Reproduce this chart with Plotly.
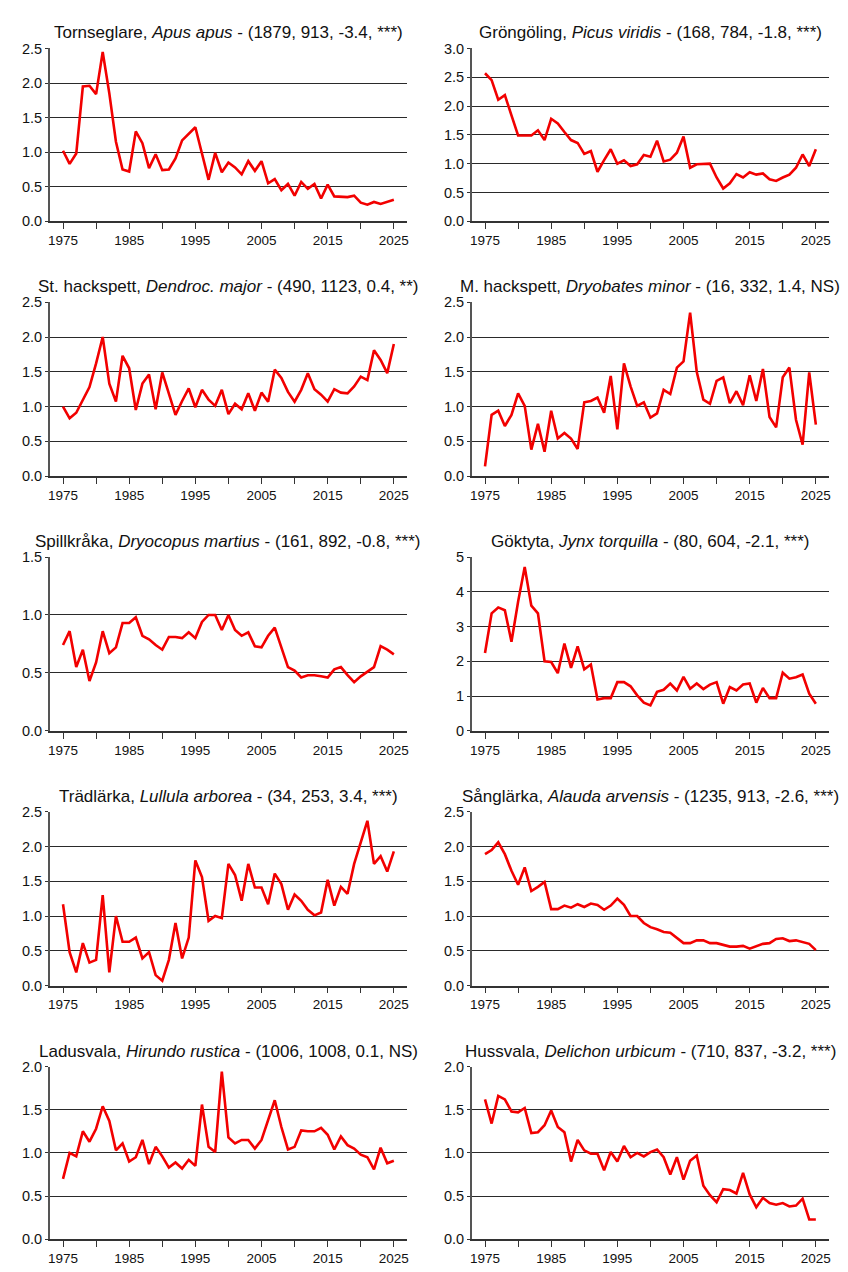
import plotly.graph_objects as go

# År 1975-2025
years = list(range(1975, 2026))

titles = [
    "Tornseglare, <i>Apus apus</i> - (1879, 913, -3.4, ***)",
    "Gröngöling, <i>Picus viridis</i> - (168, 784, -1.8, ***)",
    "St. hackspett, <i>Dendroc. major</i> - (490, 1123, 0.4, **)",
    "M. hackspett, <i>Dryobates minor</i> - (16, 332, 1.4, NS)",
    "Spillkråka, <i>Dryocopus martius</i> - (161, 892, -0.8, ***)",
    "Göktyta, <i>Jynx torquilla</i> - (80, 604, -2.1, ***)",
    "Trädlärka, <i>Lullula arborea</i> - (34, 253, 3.4, ***)",
    "Sånglärka, <i>Alauda arvensis</i> - (1235, 913, -2.6, ***)",
    "Ladusvala, <i>Hirundo rustica</i> - (1006, 1008, 0.1, NS)",
    "Hussvala, <i>Delichon urbicum</i> - (710, 837, -3.2, ***)",
]

tornseglare = [1.02, 0.83, 0.98, 1.95, 1.96, 1.84, 2.45, 1.85, 1.15, 0.75,
               0.72, 1.30, 1.13, 0.77, 0.97, 0.74, 0.75, 0.91, 1.17, 1.27,
               1.36, 0.98, 0.60, 0.99, 0.71, 0.85, 0.78, 0.68, 0.87, 0.73,
               0.87, 0.55, 0.61, 0.45, 0.54, 0.37, 0.57, 0.47, 0.54, 0.33,
               0.53, 0.36, 0.36, 0.35, 0.37, 0.27, 0.24, 0.28, 0.25, 0.28,
               0.31]
grongoling = [2.57, 2.45, 2.11, 2.19, 1.84, 1.49, 1.49, 1.49, 1.58, 1.41,
              1.78, 1.70, 1.55, 1.41, 1.36, 1.17, 1.22, 0.86, 1.06, 1.25,
              1.00, 1.06, 0.96, 0.99, 1.15, 1.12, 1.40, 1.04, 1.07, 1.19,
              1.47, 0.93, 0.99, 1.00, 1.00, 0.76, 0.57, 0.66, 0.82, 0.76,
              0.85, 0.81, 0.83, 0.73, 0.70, 0.76, 0.81, 0.93, 1.16, 0.96,
              1.25]
st_hackspett = [1.00, 0.83, 0.91, 1.09, 1.28, 1.62, 2.00, 1.33, 1.07, 1.73,
                1.55, 0.95, 1.33, 1.46, 0.96, 1.49, 1.19, 0.88, 1.08, 1.26,
                0.99, 1.24, 1.10, 1.01, 1.24, 0.89, 1.04, 0.96, 1.19, 0.94,
                1.20, 1.07, 1.53, 1.41, 1.21, 1.07, 1.24, 1.48, 1.25, 1.17,
                1.07, 1.25, 1.20, 1.19, 1.29, 1.43, 1.38, 1.81, 1.67, 1.48,
                1.90]
m_hackspett = [0.14, 0.88, 0.94, 0.72, 0.88, 1.19, 1.01, 0.38, 0.75, 0.35,
               0.94, 0.54, 0.62, 0.54, 0.39, 1.06, 1.08, 1.13, 0.91, 1.44,
               0.67, 1.62, 1.29, 1.01, 1.06, 0.84, 0.90, 1.24, 1.18, 1.56,
               1.65, 2.35, 1.50, 1.10, 1.04, 1.37, 1.42, 1.05, 1.22, 1.02,
               1.45, 1.08, 1.54, 0.85, 0.70, 1.42, 1.56, 0.81, 0.45, 1.49,
               0.74]
spillkraka = [0.74, 0.86, 0.55, 0.70, 0.43, 0.59, 0.86, 0.67, 0.72, 0.93,
              0.93, 0.98, 0.82, 0.79, 0.74, 0.70, 0.81, 0.81, 0.80, 0.85,
              0.80, 0.94, 1.00, 1.00, 0.87, 1.00, 0.87, 0.82, 0.85, 0.73,
              0.72, 0.82, 0.89, 0.72, 0.55, 0.52, 0.46, 0.48, 0.48, 0.47,
              0.46, 0.53, 0.55, 0.48, 0.42, 0.47, 0.51, 0.55, 0.73, 0.70,
              0.66]
goktyta = [2.24, 3.38, 3.55, 3.47, 2.56, 3.71, 4.71, 3.60, 3.38, 2.00,
           1.98, 1.66, 2.51, 1.81, 2.43, 1.77, 1.91, 0.90, 0.94, 0.94,
           1.40, 1.40, 1.28, 1.02, 0.81, 0.73, 1.12, 1.18, 1.36, 1.16,
           1.55, 1.21, 1.36, 1.20, 1.33, 1.40, 0.78, 1.26, 1.16, 1.33,
           1.36, 0.81, 1.23, 0.94, 0.94, 1.67, 1.50, 1.54, 1.62, 1.07,
           0.78]
tradlarka = [1.17, 0.48, 0.19, 0.61, 0.33, 0.37, 1.30, 0.19, 1.00, 0.63,
             0.63, 0.69, 0.39, 0.48, 0.15, 0.07, 0.37, 0.90, 0.39, 0.69,
             1.80, 1.56, 0.93, 1.00, 0.97, 1.75, 1.59, 1.22, 1.75, 1.41,
             1.41, 1.17, 1.61, 1.46, 1.09, 1.31, 1.22, 1.09, 1.01, 1.05,
             1.52, 1.15, 1.42, 1.32, 1.75, 2.06, 2.37, 1.75, 1.86, 1.64,
             1.93]
sanglarka = [1.89, 1.95, 2.06, 1.89, 1.65, 1.45, 1.70, 1.36, 1.42, 1.49,
             1.10, 1.10, 1.15, 1.12, 1.17, 1.13, 1.18, 1.16, 1.09, 1.15,
             1.25, 1.16, 1.00, 1.00, 0.90, 0.84, 0.81, 0.77, 0.76, 0.69,
             0.61, 0.61, 0.65, 0.65, 0.61, 0.61, 0.58, 0.56, 0.56, 0.57,
             0.53, 0.56, 0.60, 0.61, 0.67, 0.68, 0.64, 0.65, 0.62, 0.60,
             0.51]
ladusvala = [0.70, 1.00, 0.96, 1.25, 1.13, 1.28, 1.54, 1.37, 1.03, 1.11,
             0.90, 0.95, 1.15, 0.87, 1.07, 0.96, 0.83, 0.89, 0.82, 0.92,
             0.85, 1.56, 1.07, 1.01, 1.94, 1.18, 1.11, 1.15, 1.15, 1.05,
             1.15, 1.39, 1.61, 1.30, 1.04, 1.07, 1.26, 1.25, 1.25, 1.29,
             1.21, 1.04, 1.19, 1.09, 1.05, 0.98, 0.95, 0.81, 1.06, 0.88,
             0.91]
hussvala = [1.62, 1.34, 1.66, 1.62, 1.48, 1.47, 1.52, 1.23, 1.24, 1.32,
            1.49, 1.30, 1.24, 0.90, 1.15, 1.03, 0.99, 0.99, 0.80, 1.01,
            0.90, 1.08, 0.95, 1.00, 0.96, 1.01, 1.04, 0.95, 0.75, 0.95,
            0.69, 0.91, 0.97, 0.62, 0.51, 0.43, 0.58, 0.57, 0.53, 0.77,
            0.52, 0.37, 0.48, 0.42, 0.40, 0.42, 0.38, 0.39, 0.47, 0.23,
            0.23]

series = [tornseglare, grongoling, st_hackspett, m_hackspett, spillkraka,
          goktyta, tradlarka, sanglarka, ladusvala, hussvala]

# y-axlarnas max och steg
y_max = [2.5, 3.0, 2.5, 2.5, 1.5, 5, 2.5, 2.5, 2.0, 2.0]
y_step = [0.5, 0.5, 0.5, 0.5, 0.5, 1, 0.5, 0.5, 0.5, 0.5]

x_ticks = list(range(1975, 2026, 5))
x_labels = [str(y) if (y - 1975) % 10 == 0 else "" for y in x_ticks]

W, H = 848, 1272
col_px = [(48, 407), (472, 831)]
row_px = [(41, 216), (298, 474), (556, 732), (814, 990), (1072, 1247)]

font = "Liberation Sans, Arial, sans-serif"

fig = go.Figure()
annotations = []

for i, vals in enumerate(series):
    r, c = divmod(i, 2)
    n = i + 1
    xa = "x" if n == 1 else f"x{n}"
    ya = "y" if n == 1 else f"y{n}"
    fig.add_trace(go.Scatter(x=years, y=vals, mode="lines",
                             line=dict(color="#f20000", width=2.6),
                             xaxis=xa, yaxis=ya, showlegend=False))
    x0, x1 = col_px[c]
    t, b = row_px[r]
    dom_x = [x0 / W, x1 / W]
    dom_y = [1 - b / H, 1 - t / H]
    step = y_step[i]
    fmt = "d" if step >= 1 else ".1f"
    fig.layout[("xaxis" if n == 1 else f"xaxis{n}")] = dict(
        domain=dom_x, anchor=ya, range=[1973, 2027],
        tickvals=x_ticks, ticktext=x_labels,
        ticks="outside", ticklen=6, tickwidth=1.2, tickcolor="#333",
        showline=True, linecolor="#333", linewidth=1.5,
        showgrid=False, zeroline=False,
        tickfont=dict(family=font, size=13.5, color="#111"),
    )
    fig.layout[("yaxis" if n == 1 else f"yaxis{n}")] = dict(
        domain=dom_y, anchor=xa, range=[0, y_max[i]],
        dtick=step, tick0=0, tickformat=fmt,
        ticks="outside", ticklen=3, tickwidth=1.2, tickcolor="#333",
        showline=True, linecolor="#555", linewidth=1.5,
        showgrid=True, gridcolor="#2a2a2a", gridwidth=1.2,
        zeroline=False,
        tickfont=dict(family=font, size=14.5, color="#111"),
    )
    annotations.append(dict(
        text=titles[i], xref="paper", yref="paper",
        x=(dom_x[0] + dom_x[1]) / 2, y=dom_y[1],
        xanchor="center", yanchor="bottom", yshift=4, showarrow=False,
        font=dict(family=font, size=17, color="#111"),
    ))

fig.update_layout(
    width=W, height=H,
    margin=dict(l=0, r=0, t=0, b=0),
    paper_bgcolor="white", plot_bgcolor="white",
    annotations=annotations,
)

# sidans standardmarginal bort så att figuren fyller fönstret
fig.write_html("out.html", config={"displayModeBar": False},
               post_script="document.body.style.margin='0';")
